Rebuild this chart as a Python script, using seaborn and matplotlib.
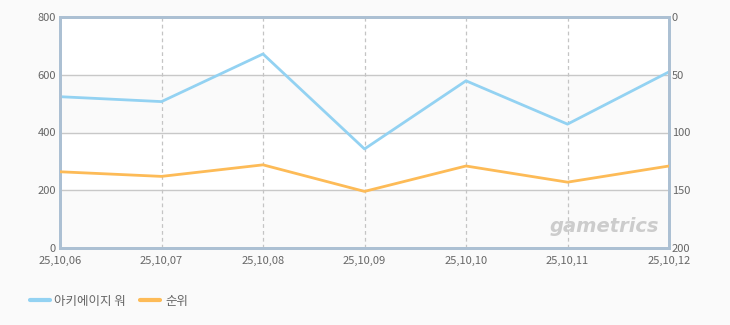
import matplotlib
matplotlib.use("Agg")
import matplotlib.pyplot as plt
import seaborn as sns
import pandas as pd
from matplotlib.lines import Line2D

dates = ["25,10,06", "25,10,07", "25,10,08", "25,10,09", "25,10,10", "25,10,11", "25,10,12"]
game_values = [524, 507, 672, 343, 579, 429, 610]
rank_values = [134, 138, 128, 151, 129, 143, 129]
left_ticks = [0, 200, 400, 600, 800]
right_ticks = [0, 50, 100, 150, 200]
series_names = ["아키에이지 워", "순위"]

sns.set_theme(style="white")
plt.rcParams['font.family'] = ['Noto Sans CJK KR', 'DejaVu Sans']

blue = "#93d2f2"
orange = "#fdbb57"
frame = "#acc0d3"
txt = "#666666"

df = pd.DataFrame({"x": range(len(dates)), "game": game_values, "rank": rank_values})

fig = plt.figure(figsize=(7.3, 3.25), dpi=100, facecolor="#fafafa")
ax = fig.add_axes([60/730, 1-248/325, 609/730, 231/325])
ax.set_facecolor("white")
ax2 = ax.twinx()

# alternating bands
ax.axhspan(0, 200, color="#fafafa", zorder=0)
ax.axhspan(400, 600, color="#fafafa", zorder=0)
for y in [200, 400, 600]:
    ax.axhline(y, color="#c8c8c8", lw=1, zorder=1)
for i in range(1, len(dates) - 1):
    ax.axvline(i, color="#c4c4c4", lw=0.9, ls=(0, (3, 2.5)), zorder=1)

sns.lineplot(data=df, x="x", y="game", ax=ax, color=blue, lw=2, zorder=3)
sns.lineplot(data=df, x="x", y="rank", ax=ax2, color=orange, lw=2, zorder=3)

ax.set_xlim(0, len(dates) - 1)
ax.set_ylim(0, 800)
ax2.set_ylim(200, 0)
ax.set_yticks(left_ticks)
ax2.set_yticks(right_ticks)
ax.set_xticks(range(len(dates)))
ax.set_xticklabels(dates)
ax.set_xlabel("")
ax.set_ylabel("")
ax2.set_ylabel("")

for a in (ax, ax2):
    a.tick_params(labelsize=8, colors=txt, length=0, pad=2)
    for s in a.spines.values():
        s.set_color(frame)
        s.set_linewidth(2)
ax.tick_params(axis="y", pad=3)
ax2.tick_params(axis="y", pad=2)
ax.tick_params(axis="x", pad=6)

ax.text(0.983, 0.095, "gametrics", transform=ax.transAxes, ha="right", va="center",
        fontsize=14, fontweight="bold", fontstyle="italic", color="#cccccc",
        family="DejaVu Sans", zorder=2)

handles = [Line2D([0], [0], color=blue, lw=3), Line2D([0], [0], color=orange, lw=3)]
fig.legend(handles, series_names, loc="center left", bbox_to_anchor=(0.025, 0.073),
           ncol=2, frameon=False, fontsize=9, handlelength=1.6, handletextpad=0.4,
           columnspacing=1.1, labelcolor=txt)

fig.savefig("out.png", dpi=100, facecolor=fig.get_facecolor())
